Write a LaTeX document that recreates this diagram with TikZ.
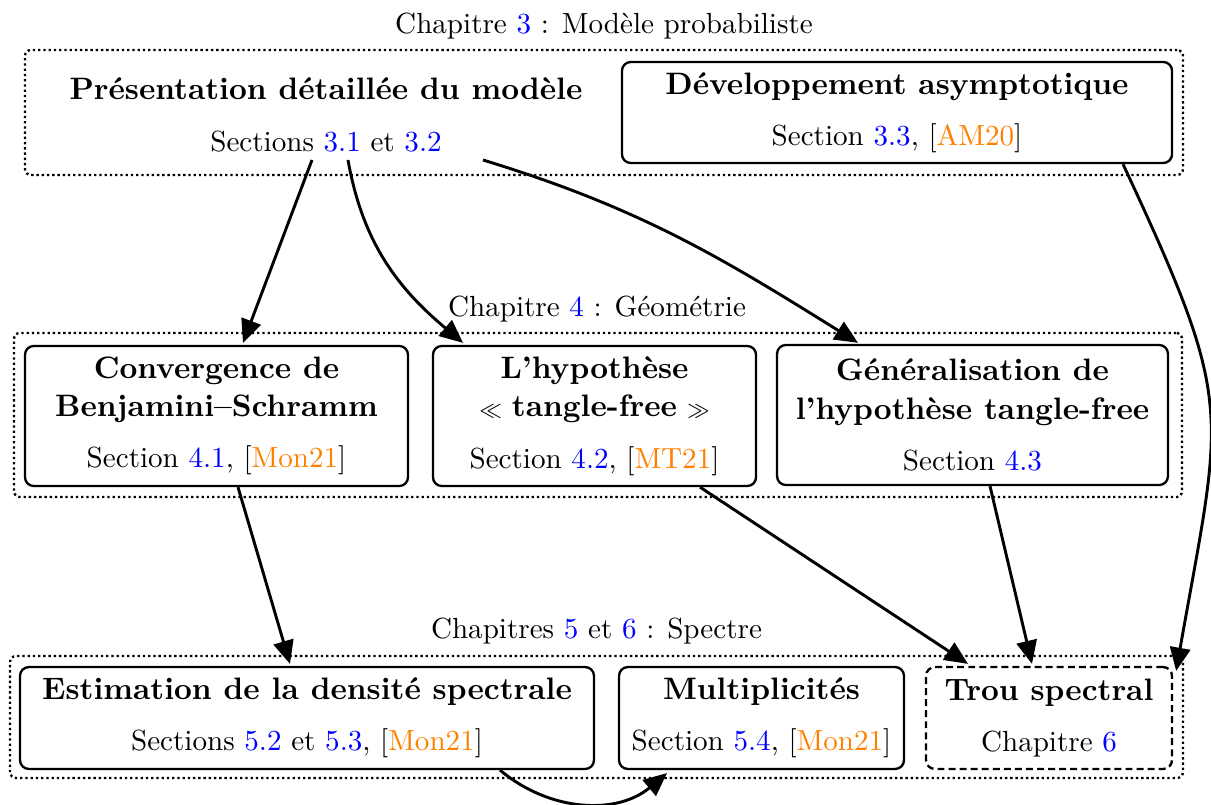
\documentclass[tikz,border=0pt]{standalone}
\usetikzlibrary{arrows.meta,calc}
\definecolor{refblue}{RGB}{0,0,255}
\definecolor{reforange}{RGB}{255,128,0}
\newcommand{\rb}[1]{\textcolor{refblue}{#1}}
\newcommand{\ro}[1]{\textcolor{reforange}{#1}}
\newcommand{\bt}[1]{{\fontsize{10.65pt}{12.8pt}\selectfont\bfseries #1}}
\begin{document}
\begin{tikzpicture}[x=0.3436pt,y=-0.3436pt,
  box/.style={draw,thick,rounded corners=3pt,align=center,inner sep=0pt},
  dashbox/.style={box,dash pattern=on 2.4pt off 1.4pt},
  frame/.style={draw,thick,densely dotted,rounded corners=2pt,inner sep=0pt},
  arr/.style={-{Triangle[length=8pt,width=7pt]},line width=1pt},
  ttl/.style={inner sep=0pt}
]
\useasboundingbox (0,0) rectangle (1211,804);

% frames
\node[frame,minimum width=397.9pt,minimum height=42.9pt] (f1) at (604,112.5) {};
\node[frame,minimum width=401.3pt,minimum height=56.4pt] (f2) at (598,415) {};
\node[frame,minimum width=403pt,minimum height=41.9pt] (f3) at (596.5,717) {};

% titles
\node[ttl] (t1) at (604,26) {Chapitre \rb{3}~: Modèle probabiliste};
\node[ttl] (t2) at (597,309) {Chapitre \rb{4}~: Géométrie};
\node[ttl] (t3) at (596.5,631) {Chapitres \rb{5} et \rb{6}~: Spectre};

% chapter 3
\node[align=center,inner sep=0pt,minimum width=180pt,minimum height=30pt] (pres) at (326,115)
  {\bt{Présentation détaillée du modèle}\\[5.6pt]Sections \rb{3.1} et \rb{3.2}};
\node[box,minimum width=189pt,minimum height=34.7pt] (dev) at (897,112.5)
  {\bt{Développement asymptotique}\\[5.6pt]Section \rb{3.3}, [\ro{AM20}]};

% chapter 4
\node[box,minimum width=131.6pt,minimum height=48.1pt] (conv) at (216.5,416)
  {\bt{Convergence de}\\[1.2pt]\bt{Benjamini--Schramm}\\[5.6pt]Section \rb{4.1}, [\ro{Mon21}]};
\node[box,minimum width=111pt,minimum height=48.1pt] (hyp) at (594.5,416)
  {\bt{L'hypothèse}\\[1.2pt]$\scriptstyle\ll$~\bt{tangle-free}~$\scriptstyle\gg$\\[5.6pt]Section \rb{4.2}, [\ro{MT21}]};
\node[box,minimum width=134.3pt,minimum height=48.1pt] (gen) at (972.5,415)
  {\bt{Généralisation de}\\[1.2pt]\bt{l'hypothèse tangle-free}\\[5.6pt]Section \rb{4.3}};

% chapters 5-6
\node[box,minimum width=197.2pt,minimum height=35pt] (est) at (307,718)
  {\bt{Estimation de la densité spectrale}\\[5.6pt]Sections \rb{5.2} et \rb{5.3}, [\ro{Mon21}]};
\node[box,minimum width=97.9pt,minimum height=35pt] (mult) at (761.5,718)
  {\bt{Multiplicités}\\[5.6pt]Section \rb{5.4}, [\ro{Mon21}]};
\node[dashbox,minimum width=84.5pt,minimum height=35pt] (trou) at (1049,718)
  {\bt{Trou spectral}\\[5.6pt]Chapitre \rb{6}};

% arrows
\draw[arr] ($(pres.center)+(-14,45)$) -- ($(conv.north)+(26.5,-2)$);
\draw[arr] ($(pres.center)+(22,45)$) to[out=-80,in=140] ($(hyp.north)+(-131.5,-2)$);
\draw[arr] ($(pres.center)+(157,45)$) to[out=-17,in=148] ($(gen.north)+(-114.5,-1)$);
\draw[arr] ($(dev.south)+(226,0)$) to[out=-65,in=80,looseness=1.35] ($(trou.north east)+(3,5)$);
\draw[arr] ($(conv.south)+(21.5,0)$) -- ($(est.north)+(-17,-2)$);
\draw[arr] ($(hyp.south)+(105.5,0)$) -- ($(trou.north)+(-81,-2)$);
\draw[arr] ($(gen.south)+(17.5,0)$) -- ($(trou.north)+(-17,-2)$);
\draw[arr] ($(est.south)+(193,0)$) to[out=-40,in=-140] ($(mult.south)+(-94.5,3)$);
\end{tikzpicture}
\end{document}
